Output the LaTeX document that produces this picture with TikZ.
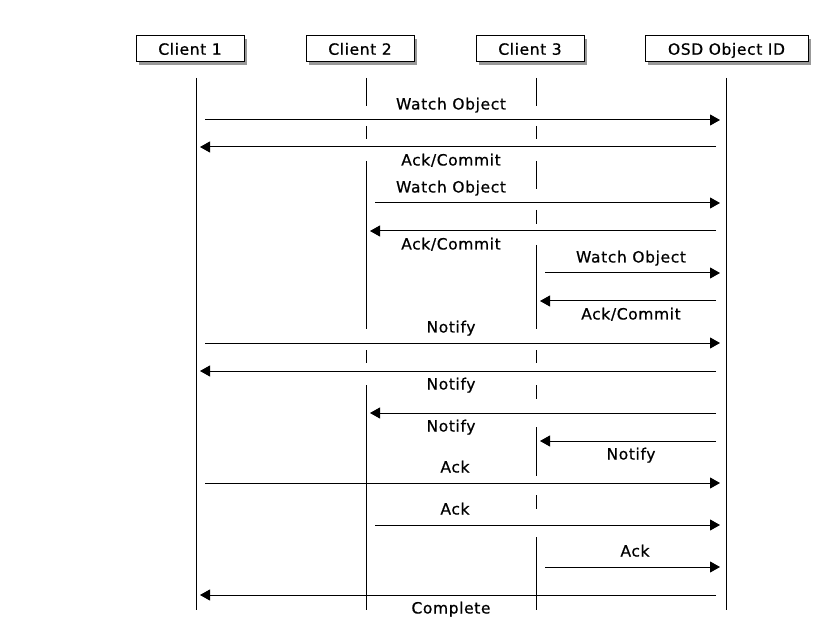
\documentclass[tikz,border=0pt]{standalone}
\usepackage{fontspec}
\setmainfont{DejaVu Sans}[FakeBold=0.6, LetterSpace=4]
\usetikzlibrary{arrows.meta,shadows}

\begin{document}
\begin{tikzpicture}[
        x=1pt, y=-1pt,
        actor/.style={rectangle, draw=black, fill=white, line width=1pt, minimum height=26pt, inner sep=0pt, text height=11.5pt, text depth=0pt, font=\fontsize{15.5}{18}\selectfont, drop shadow={shadow xshift=3pt, shadow yshift=-3pt, fill=black!40, opacity=1}},
        life/.style={line width=1pt},
        msg/.style={-{Triangle[length=10pt,width=11pt]}, line width=1pt},
        lbl/.style={anchor=base, inner sep=0pt, font=\fontsize{15.5}{18}\selectfont}
    ]
        \useasboundingbox[fill=white] (0,0) rectangle (830,644);

        % participants
        \node[actor, minimum width=108pt] (client1) at (190,49)   {Client 1};
        \node[actor, minimum width=108pt] (client2) at (360,49)   {Client 2};
        \node[actor, minimum width=108pt] (client3) at (530,49)   {Client 3};
        \node[actor, minimum width=163pt] (osd)     at (726.5,49) {OSD Object ID};

        % lifelines
        \draw[life] (196,78) -- (196,610);
        \draw[life] (726,78) -- (726,610);
        \draw[life] (366,78) -- (366,106);
        \draw[life] (366,126) -- (366,139);
        \draw[life] (366,161) -- (366,329);
        \draw[life] (366,350) -- (366,363);
        \draw[life] (366,385) -- (366,610);
        \draw[life] (536,78) -- (536,106);
        \draw[life] (536,126) -- (536,139);
        \draw[life] (536,161) -- (536,189);
        \draw[life] (536,210) -- (536,224);
        \draw[life] (536,245) -- (536,329);
        \draw[life] (536,350) -- (536,363);
        \draw[life] (536,385) -- (536,399);
        \draw[life] (536,427) -- (536,476);
        \draw[life] (536,495) -- (536,509);
        \draw[life] (536,537) -- (536,610);

        % watch
        \coordinate (w1a) at (205,120); \coordinate (w1b) at (720,120);
        \coordinate (k1a) at (716,147); \coordinate (k1b) at (200,147);
        \coordinate (w2a) at (375,203); \coordinate (w2b) at (720,203);
        \coordinate (k2a) at (716,231); \coordinate (k2b) at (370,231);
        \coordinate (w3a) at (545,273); \coordinate (w3b) at (720,273);
        \coordinate (k3a) at (716,301); \coordinate (k3b) at (540,301);
        \draw[msg] (w1a) -- (w1b);
        \draw[msg] (k1a) -- (k1b);
        \draw[msg] (w2a) -- (w2b);
        \draw[msg] (k2a) -- (k2b);
        \draw[msg] (w3a) -- (w3b);
        \draw[msg] (k3a) -- (k3b);
        \node[lbl] (lw1) at (451,109.5) {Watch Object};
        \node[lbl] (lk1) at (451,165.5) {Ack/Commit};
        \node[lbl] (lw2) at (451,192.5) {Watch Object};
        \node[lbl] (lk2) at (451,249.5) {Ack/Commit};
        \node[lbl] (lw3) at (631,262.5) {Watch Object};
        \node[lbl] (lk3) at (631,319.5) {Ack/Commit};

        % notify
        \coordinate (n0a) at (205,343); \coordinate (n0b) at (720,343);
        \coordinate (n1a) at (716,371); \coordinate (n1b) at (200,371);
        \coordinate (n2a) at (716,413); \coordinate (n2b) at (370,413);
        \coordinate (n3a) at (716,441); \coordinate (n3b) at (540,441);
        \draw[msg] (n0a) -- (n0b);
        \draw[msg] (n1a) -- (n1b);
        \draw[msg] (n2a) -- (n2b);
        \draw[msg] (n3a) -- (n3b);
        \node[lbl] (ln0) at (451,332.5) {Notify};
        \node[lbl] (ln1) at (451,389.5) {Notify};
        \node[lbl] (ln2) at (451,431.5) {Notify};
        \node[lbl] (ln3) at (631,459.5) {Notify};

        % ack + complete
        \coordinate (a1a) at (205,483); \coordinate (a1b) at (720,483);
        \coordinate (a2a) at (375,525); \coordinate (a2b) at (720,525);
        \coordinate (a3a) at (545,567); \coordinate (a3b) at (720,567);
        \coordinate (ca)  at (716,595); \coordinate (cb)  at (200,595);
        \draw[msg] (a1a) -- (a1b);
        \draw[msg] (a2a) -- (a2b);
        \draw[msg] (a3a) -- (a3b);
        \draw[msg] (ca) -- (cb);
        \node[lbl] (la1) at (455,472.5) {Ack};
        \node[lbl] (la2) at (455,514.5) {Ack};
        \node[lbl] (la3) at (635,556.5) {Ack};
        \node[lbl] (lc)  at (451,613.5) {Complete};
    \end{tikzpicture}
\end{document}
